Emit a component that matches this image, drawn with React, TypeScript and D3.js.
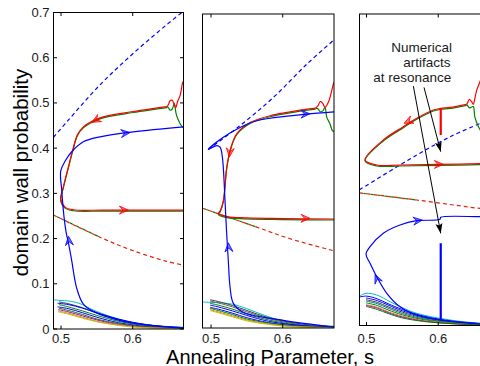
import React from "react";
import * as d3 from "d3";

type Pt = [number, number];

// ---------- axes ----------
const xTicks = [0.5, 0.6];
const xTickLabels = ["0.5", "0.6"];
const yTicks = [0, 0.1, 0.2, 0.3, 0.4, 0.5, 0.6, 0.7];
const yTickLabels = ["0", "0.1", "0.2", "0.3", "0.4", "0.5", "0.6", "0.7"];
const yDomain: Pt = [0, 0.7];
const p1XDomain: Pt = [0.4895, 0.6708];
const p2XDomain: Pt = [0.4881, 0.6715];
const p3XDomain: Pt = [0.4902, 0.6715];
const xLabel = "Annealing Parameter, s";
const yLabel = "domain wall probability";

// ---------- panel 1 ----------
const p1BlueDashed: Pt[] = [[0.4895, 0.424], [0.508, 0.458], [0.5544, 0.54], [0.601, 0.61], [0.6474, 0.673], [0.6708, 0.703]];
const p1RedDashed: Pt[] = [[0.4895, 0.252], [0.5544, 0.203], [0.6008, 0.173], [0.6474, 0.1496], [0.6708, 0.1415]];
const p1RedTip: Pt[] = [[0.6708, 0.548], [0.6697, 0.545], [0.666, 0.516], [0.6625, 0.503], [0.66, 0.489], [0.6575, 0.498], [0.655, 0.506], [0.652, 0.505], [0.65, 0.497], [0.648, 0.492]];
const p1GreenTip: Pt[] = [[0.6708, 0.446], [0.6697, 0.446], [0.6636, 0.462], [0.6604, 0.477], [0.658, 0.499], [0.655, 0.486], [0.652, 0.484], [0.65, 0.489], [0.648, 0.492]];
const p1RedMain: Pt[] = [[0.648, 0.492], [0.63, 0.488], [0.6004, 0.481], [0.5544, 0.467], [0.5311, 0.447], [0.523, 0.43], [0.5163, 0.3956], [0.5102, 0.358], [0.5032, 0.314], [0.4996, 0.2867], [0.5056, 0.2696], [0.5172, 0.2637], [0.56, 0.263], [0.6708, 0.263]];
const p1Blue: Pt[] = [[0.6708, 0.002], [0.63, 0.007], [0.5869, 0.017], [0.5451, 0.039], [0.5311, 0.055], [0.5219, 0.09], [0.5149, 0.151], [0.511, 0.185], [0.507, 0.215], [0.5042, 0.2474], [0.501, 0.3067], [0.4996, 0.3496], [0.506, 0.372], [0.5149, 0.392], [0.5311, 0.414], [0.5544, 0.425], [0.6008, 0.436], [0.6708, 0.447]];
const p1Arrows: number[][] = [[0.5544, 0.467, 0.5428, 0.457], [0.585, 0.263, 0.594, 0.263], [0.588, 0.433, 0.5962, 0.4345], [0.512, 0.18, 0.5105, 0.205]];
const p1ArrowColors = ["#ff0000", "#ff0000", "#0000ff", "#0000ff"];
const p1Cluster: Pt[][] = [
  [[0.4895, 0.065], [0.5, 0.063], [0.51, 0.062], [0.525, 0.057], [0.545, 0.042], [0.57, 0.027], [0.6, 0.014], [0.635, 0.007], [0.6708, 0.004]],
  [[0.497, 0.06], [0.51, 0.056], [0.53, 0.047], [0.55, 0.035], [0.58, 0.021], [0.61, 0.011], [0.64, 0.006], [0.6708, 0.003]],
  [[0.495, 0.057], [0.51, 0.054], [0.53, 0.046], [0.55, 0.036], [0.58, 0.022], [0.61, 0.012], [0.64, 0.006], [0.6708, 0.003]],
  [[0.497, 0.054], [0.51, 0.049], [0.53, 0.04], [0.55, 0.03], [0.58, 0.017], [0.61, 0.009], [0.64, 0.004], [0.6708, 0.002]],
  [[0.495, 0.049], [0.51, 0.045], [0.53, 0.036], [0.55, 0.026], [0.58, 0.014], [0.61, 0.007], [0.64, 0.003], [0.6708, 0.002]],
  [[0.497, 0.046], [0.51, 0.041], [0.53, 0.032], [0.55, 0.022], [0.58, 0.012], [0.61, 0.006], [0.64, 0.003], [0.6708, 0.001]],
  [[0.496, 0.043], [0.51, 0.038], [0.53, 0.029], [0.55, 0.02], [0.58, 0.01], [0.61, 0.005], [0.64, 0.002], [0.6708, 0.001]],
  [[0.496, 0.04], [0.51, 0.035], [0.53, 0.026], [0.55, 0.017], [0.58, 0.009], [0.61, 0.004], [0.64, 0.002], [0.6708, 0.001]],
  [[0.496, 0.038], [0.51, 0.033], [0.53, 0.024], [0.55, 0.016], [0.58, 0.008], [0.61, 0.003], [0.64, 0.0015], [0.6708, 0.001]],
];
const p1ClusterColors = ["#00bfbf", "#404040", "#0000ff", "#008000", "#0000ff", "#008000", "#bf00bf", "#d9851a", "#bfbf00"];

// ---------- panel 2 ----------
const p2BlueDashed: Pt[] = [[0.4962, 0.398], [0.5404, 0.451], [0.5869, 0.514], [0.6335, 0.588], [0.6715, 0.6425]];
const p2RedDashed: Pt[] = [[0.4881, 0.267], [0.5637, 0.225], [0.6102, 0.199], [0.6715, 0.172]];
const p2RedTip: Pt[] = [[0.6715, 0.548], [0.6706, 0.544], [0.6683, 0.529], [0.6636, 0.503], [0.659, 0.492], [0.656, 0.5], [0.6525, 0.505], [0.649, 0.495], [0.646, 0.49]];
const p2GreenTip: Pt[] = [[0.6715, 0.438], [0.6692, 0.44], [0.666, 0.455], [0.6614, 0.47], [0.659, 0.492], [0.656, 0.484], [0.6525, 0.482], [0.649, 0.489], [0.646, 0.49]];
const p2RedMain: Pt[] = [[0.646, 0.49], [0.6102, 0.482], [0.5869, 0.475], [0.5544, 0.458], [0.5358, 0.433], [0.5265, 0.3956], [0.5219, 0.358], [0.5172, 0.284], [0.513, 0.262], [0.5102, 0.255], [0.52, 0.249], [0.5404, 0.246], [0.6, 0.244], [0.6715, 0.243]];
const p2Blue: Pt[] = [[0.6715, 0.002], [0.6008, 0.017], [0.545, 0.035], [0.5311, 0.055], [0.5265, 0.092], [0.5241, 0.15], [0.5215, 0.22], [0.5195, 0.284], [0.5158, 0.381], [0.5126, 0.403], [0.508, 0.4067], [0.4962, 0.398], [0.5172, 0.425], [0.5404, 0.447], [0.5637, 0.462], [0.6102, 0.473], [0.6335, 0.477], [0.6715, 0.482]];
const p2Arrows: number[][] = [[0.5275, 0.41, 0.5255, 0.381], [0.628, 0.2445, 0.638, 0.2445], [0.628, 0.477, 0.638, 0.4775], [0.5252, 0.165, 0.5241, 0.19]];
const p2ArrowColors = ["#ff0000", "#ff0000", "#0000ff", "#0000ff"];
const p2Cluster: Pt[][] = [
  [[0.4881, 0.058], [0.5, 0.057], [0.515, 0.056], [0.53, 0.053], [0.55, 0.043], [0.575, 0.028], [0.6, 0.016], [0.635, 0.008], [0.6715, 0.004]],
  [[0.4986, 0.063], [0.51, 0.059], [0.53, 0.05], [0.55, 0.039], [0.58, 0.023], [0.61, 0.013], [0.64, 0.006], [0.6715, 0.003]],
  [[0.4986, 0.06], [0.51, 0.056], [0.53, 0.047], [0.55, 0.036], [0.58, 0.021], [0.61, 0.011], [0.64, 0.005], [0.6715, 0.003]],
  [[0.4986, 0.055], [0.51, 0.051], [0.53, 0.042], [0.55, 0.031], [0.58, 0.018], [0.61, 0.009], [0.64, 0.004], [0.6715, 0.002]],
  [[0.4986, 0.051], [0.51, 0.047], [0.53, 0.038], [0.55, 0.028], [0.58, 0.015], [0.61, 0.008], [0.64, 0.004], [0.6715, 0.002]],
  [[0.4986, 0.046], [0.51, 0.042], [0.53, 0.033], [0.55, 0.023], [0.58, 0.012], [0.61, 0.006], [0.64, 0.003], [0.6715, 0.001]],
  [[0.4986, 0.044], [0.51, 0.039], [0.53, 0.03], [0.55, 0.02], [0.58, 0.011], [0.61, 0.005], [0.64, 0.002], [0.6715, 0.001]],
  [[0.4986, 0.041], [0.51, 0.036], [0.53, 0.027], [0.55, 0.018], [0.58, 0.009], [0.61, 0.004], [0.64, 0.002], [0.6715, 0.001]],
  [[0.4986, 0.039], [0.51, 0.034], [0.53, 0.025], [0.55, 0.016], [0.58, 0.008], [0.61, 0.003], [0.64, 0.0015], [0.6715, 0.001]],
];
const p2ClusterColors = ["#00bfbf", "#404040", "#606060", "#008000", "#0000ff", "#0000ff", "#008000", "#d9851a", "#bfbf00"];

// ---------- panel 3 ----------
const p3BlueDashed: Pt[] = [[0.4902, 0.305], [0.57, 0.383], [0.6165, 0.424], [0.6583, 0.454], [0.6715, 0.462]];
const p3RedDashed: Pt[] = [[0.4902, 0.298], [0.57, 0.282], [0.6583, 0.263], [0.6715, 0.261]];
const p3RedTip: Pt[] = [[0.664, 0.575], [0.6573, 0.544], [0.6537, 0.529], [0.651, 0.51], [0.649, 0.497], [0.6465, 0.503], [0.6435, 0.508], [0.641, 0.501], [0.6397, 0.497]];
const p3GreenTip: Pt[] = [[0.664, 0.425], [0.656, 0.447], [0.651, 0.469], [0.649, 0.492], [0.6465, 0.491], [0.6435, 0.489], [0.641, 0.494], [0.6397, 0.497]];
const p3RedMain: Pt[] = [[0.6397, 0.497], [0.6165, 0.49], [0.6035, 0.488], [0.5932, 0.4843], [0.57, 0.4656], [0.5513, 0.4467], [0.5234, 0.4169], [0.4979, 0.372], [0.5142, 0.3607], [0.5467, 0.3607], [0.6, 0.362], [0.6715, 0.364]];
const p3Blue: Pt[] = [[0.6715, 0.003], [0.6583, 0.0034], [0.6025, 0.0124], [0.57, 0.0236], [0.5467, 0.0423], [0.5282, 0.0724], [0.5142, 0.1097], [0.5049, 0.1398], [0.4993, 0.1607], [0.5049, 0.1771], [0.5234, 0.2072], [0.5467, 0.2258], [0.57, 0.2355], [0.6025, 0.2387], [0.6035, 0.243], [0.6583, 0.2445], [0.6715, 0.245]];
const p3RedArtifact: Pt[] = [[0.6035, 0.488], [0.6035, 0.428]];
const p3BlueArtifact: Pt[] = [[0.6035, 0.185], [0.6035, 0.012]];
const p3Arrows: number[][] = [[0.562, 0.4615, 0.5523, 0.4543], [0.598, 0.362, 0.6071, 0.3622], [0.568, 0.235, 0.5778, 0.237], [0.5165, 0.098, 0.5119, 0.115]];
const p3ArrowColors = ["#ff0000", "#ff0000", "#0000ff", "#0000ff"];
const p3Cluster: Pt[][] = [
  [[0.4902, 0.066], [0.4993, 0.0723], [0.5142, 0.0685], [0.5328, 0.0535], [0.55, 0.04], [0.57, 0.0274], [0.6165, 0.0124], [0.6583, 0.005], [0.6715, 0.004]],
  [[0.4902, 0.064], [0.5, 0.066], [0.515, 0.06], [0.53, 0.049], [0.55, 0.036], [0.58, 0.021], [0.62, 0.01], [0.6715, 0.003]],
  [[0.4993, 0.062], [0.515, 0.056], [0.53, 0.046], [0.55, 0.033], [0.58, 0.019], [0.62, 0.009], [0.6715, 0.003]],
  [[0.4993, 0.058], [0.515, 0.052], [0.53, 0.042], [0.55, 0.03], [0.58, 0.017], [0.62, 0.008], [0.6715, 0.002]],
  [[0.4993, 0.055], [0.515, 0.049], [0.53, 0.039], [0.55, 0.027], [0.58, 0.015], [0.62, 0.007], [0.6715, 0.002]],
  [[0.4993, 0.051], [0.515, 0.045], [0.53, 0.035], [0.55, 0.024], [0.58, 0.013], [0.62, 0.006], [0.6715, 0.002]],
  [[0.4993, 0.047], [0.515, 0.041], [0.53, 0.031], [0.55, 0.021], [0.58, 0.011], [0.62, 0.005], [0.6715, 0.001]],
  [[0.4993, 0.045], [0.515, 0.039], [0.53, 0.029], [0.55, 0.019], [0.58, 0.01], [0.62, 0.004], [0.6715, 0.001]],
  [[0.4993, 0.043], [0.515, 0.036], [0.53, 0.027], [0.55, 0.017], [0.58, 0.009], [0.62, 0.004], [0.6715, 0.001]],
];
const p3ClusterColors = ["#00bfbf", "#0000ff", "#0000ff", "#404040", "#008080", "#008000", "#d9851a", "#bf00bf", "#008000"];

// annotation (panel 3 data coords)
const annoLines = ["Numerical", "artifacts", "at resonance"];
const annoPos: Pt[] = [[0.577, 0.6157], [0.584, 0.582], [0.5639, 0.5472]];
const annoArrows: number[][] = [[0.5653, 0.538, 0.6035, 0.207], [0.5802, 0.535, 0.6035, 0.3906]];

const FONT = "'Liberation Sans', Arial, Helvetica, sans-serif";

interface PanelCfg {
  id: string;
  box: { l: number; r: number; t: number; b: number };
  xDomain: Pt;
  blueDashed: Pt[];
  redDashed: Pt[];
  redTip: Pt[];
  greenTip: Pt[];
  redMain: Pt[];
  blue: Pt[];
  arrows: number[][];
  arrowColors: string[];
  cluster: Pt[][];
  clusterColors: string[];
  yLabels: boolean;
  yTickMarks: boolean;
  artifacts?: { pts: Pt[]; color: string }[];
}

const panels: PanelCfg[] = [
  {
    id: "p1", box: { l: 53.5, r: 183.5, t: 12.5, b: 329 }, xDomain: p1XDomain,
    blueDashed: p1BlueDashed, redDashed: p1RedDashed, redTip: p1RedTip, greenTip: p1GreenTip,
    redMain: p1RedMain, blue: p1Blue, arrows: p1Arrows, arrowColors: p1ArrowColors,
    cluster: p1Cluster, clusterColors: p1ClusterColors, yLabels: true, yTickMarks: true,
  },
  {
    id: "p2", box: { l: 202.5, r: 334, t: 14, b: 328 }, xDomain: p2XDomain,
    blueDashed: p2BlueDashed, redDashed: p2RedDashed, redTip: p2RedTip, greenTip: p2GreenTip,
    redMain: p2RedMain, blue: p2Blue, arrows: p2Arrows, arrowColors: p2ArrowColors,
    cluster: p2Cluster, clusterColors: p2ClusterColors, yLabels: false, yTickMarks: false,
  },
  {
    id: "p3", box: { l: 359.5, r: 489.5, t: 14, b: 325.5 }, xDomain: p3XDomain,
    blueDashed: p3BlueDashed, redDashed: p3RedDashed, redTip: p3RedTip, greenTip: p3GreenTip,
    redMain: p3RedMain, blue: p3Blue, arrows: p3Arrows, arrowColors: p3ArrowColors,
    cluster: p3Cluster, clusterColors: p3ClusterColors, yLabels: false, yTickMarks: false,
    artifacts: [{ pts: p3RedArtifact, color: "#ff0000" }, { pts: p3BlueArtifact, color: "#0000ff" }],
  },
];

function arrowHead(x1: number, y1: number, x2: number, y2: number, len: number, half: number, notch: number) {
  const a = Math.atan2(y2 - y1, x2 - x1);
  const c = Math.cos(a), s = Math.sin(a);
  const p = (u: number, v: number) => `${x2 + u * c - v * s},${y2 + u * s + v * c}`;
  return `M${p(0, 0)}L${p(-len, -half)}L${p(-len + notch, 0)}L${p(-len, half)}Z`;
}

function Panel({ cfg }: { cfg: PanelCfg }) {
  const { box } = cfg;
  const x = d3.scaleLinear().domain(cfg.xDomain).range([box.l, box.r]);
  const y = d3.scaleLinear().domain(yDomain).range([box.b, box.t]);
  const smooth = d3.line<Pt>().x((d) => x(d[0])).y((d) => y(d[1])).curve(d3.curveCatmullRom.alpha(0.5));
  const straight = d3.line<Pt>().x((d) => x(d[0])).y((d) => y(d[1]));
  const clipId = `clip-${cfg.id}`;
  const lw = 1.2;
  const redDashedLeft = cfg.redDashed.filter((d) => d[0] < 0.58);
  return (
    <g>
      <defs>
        <clipPath id={clipId}>
          <rect x={box.l} y={box.t} width={box.r - box.l} height={box.b - box.t} />
        </clipPath>
      </defs>
      <g clipPath={`url(#${clipId})`}>
        {cfg.cluster.map((c, i) => (
          <path key={i} d={smooth(c) || ""} fill="none" stroke={cfg.clusterColors[i]} strokeWidth={1} />
        ))}
        <path d={smooth(cfg.blueDashed) || ""} fill="none" stroke="#0000ff" strokeWidth={lw} strokeDasharray="4 3" />
        <path d={smooth(redDashedLeft) || ""} fill="none" stroke="#008000" strokeWidth={lw} strokeDasharray="3 4" strokeDashoffset={-4} />
        <path d={smooth(cfg.redDashed) || ""} fill="none" stroke="#e0200a" strokeWidth={lw} strokeDasharray="4 3" />
        <path d={smooth(cfg.redMain) || ""} fill="none" stroke="#008000" strokeWidth={lw} transform="translate(0,1)" />
        <path d={smooth(cfg.greenTip) || ""} fill="none" stroke="#008000" strokeWidth={lw} />
        <path d={smooth(cfg.redTip) || ""} fill="none" stroke="#ff0000" strokeWidth={lw} />
        <path d={smooth(cfg.redMain) || ""} fill="none" stroke="#ff0000" strokeWidth={lw} />
        <path d={smooth(cfg.blue) || ""} fill="none" stroke="#0000ff" strokeWidth={lw} />
        {(cfg.artifacts || []).map((a, i) => (
          <path key={i} d={straight(a.pts) || ""} fill="none" stroke={a.color} strokeWidth={2.2} />
        ))}
        {cfg.arrows.map((a, i) => (
          <path
            key={i}
            d={arrowHead(x(a[0]), y(a[1]), x(a[2]), y(a[3]), 9, 4, 3.5)}
            fill={cfg.arrowColors[i]}
            fillOpacity={0.55}
            stroke={cfg.arrowColors[i]}
            strokeWidth={0.8}
          />
        ))}
      </g>
      <rect x={box.l} y={box.t} width={box.r - box.l} height={box.b - box.t} fill="none" stroke="#000" strokeWidth={1} />
      {xTicks.map((t, i) => (
        <g key={i}>
          <line x1={x(t)} x2={x(t)} y1={box.b} y2={box.b - 3.5} stroke="#000" strokeWidth={1} />
          <line x1={x(t)} x2={x(t)} y1={box.t} y2={box.t + 3.5} stroke="#000" strokeWidth={1} />
          <text x={x(t)} y={342.5} textAnchor="middle" fontFamily={FONT} fontSize={13} fill="#1a1a1a">
            {xTickLabels[i]}
          </text>
        </g>
      ))}
      {cfg.yTickMarks &&
        yTicks.map((t, i) => (
          <g key={i}>
            <line x1={box.l} x2={box.l + 3.5} y1={y(t)} y2={y(t)} stroke="#000" strokeWidth={1} />
            <line x1={box.r} x2={box.r - 3.5} y1={y(t)} y2={y(t)} stroke="#000" strokeWidth={1} />
            {cfg.yLabels && (
              <text x={box.l - 4} y={y(t) + 4.5} textAnchor="end" fontFamily={FONT} fontSize={13} fill="#1a1a1a">
                {yTickLabels[i]}
              </text>
            )}
          </g>
        ))}
    </g>
  );
}

export default function App() {
  const p3 = panels[2];
  const x3 = d3.scaleLinear().domain(p3.xDomain).range([p3.box.l, p3.box.r]);
  const y3 = d3.scaleLinear().domain(yDomain).range([p3.box.b, p3.box.t]);
  return (
    <svg width={480} height={366} style={{ position: "absolute", left: 0, top: 0, background: "#fff" }}>
      <rect x={0} y={0} width={480} height={366} fill="#fff" />
      {panels.map((p) => (
        <Panel key={p.id} cfg={p} />
      ))}
      {annoArrows.map((a, i) => (
        <g key={i}>
          <line x1={x3(a[0])} y1={y3(a[1])} x2={x3(a[2])} y2={y3(a[3])} stroke="#000" strokeWidth={1} />
          <path d={arrowHead(x3(a[0]), y3(a[1]), x3(a[2]), y3(a[3]), 10, 3.5, 2)} fill="#000" />
        </g>
      ))}
      {annoLines.map((s, i) => (
        <text key={i} x={x3(annoPos[i][0])} y={y3(annoPos[i][1])} textAnchor="middle" fontFamily={FONT} fontSize={13.5} fill="#1a1a1a">
          {s}
        </text>
      ))}
      <text x={270} y={363.5} textAnchor="middle" fontFamily={FONT} fontSize={20} fill="#000">
        {xLabel}
      </text>
      <text transform="translate(28,172.5) rotate(-90)" textAnchor="middle" fontFamily={FONT} fontSize={20.5} fill="#000">
        {yLabel}
      </text>
    </svg>
  );
}
